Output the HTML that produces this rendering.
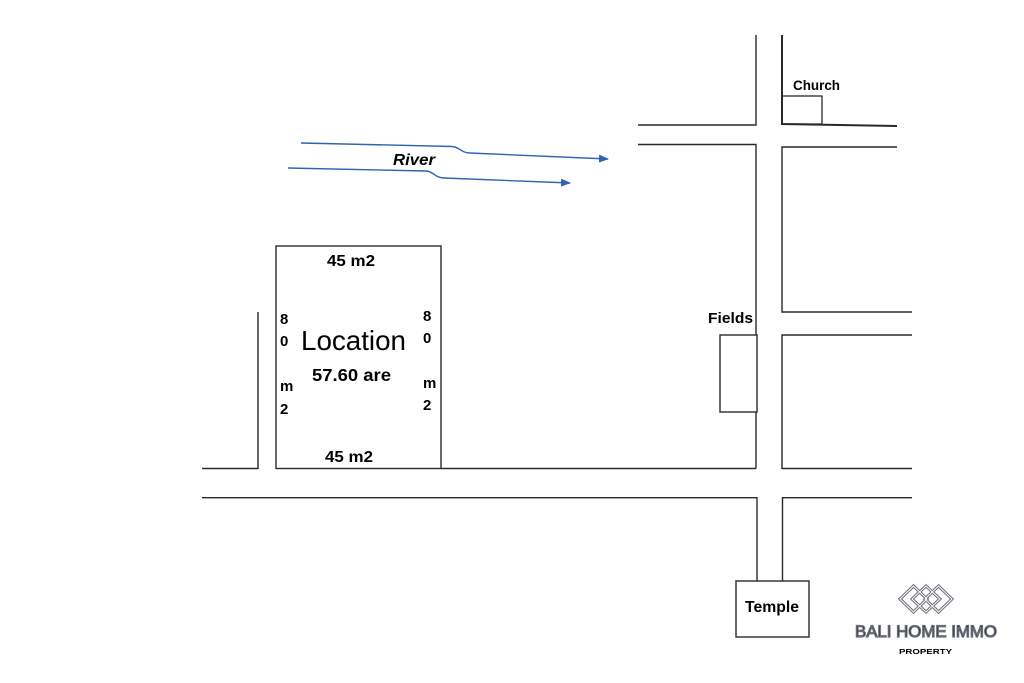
<!DOCTYPE html>
<html>
<head>
<meta charset="utf-8">
<style>
html,body{margin:0;padding:0;background:#fff;}
svg{display:block;}
text{font-family:"Liberation Sans",Arial,sans-serif;fill:#000;}
</style>
</head>
<body>
<svg width="1024" height="683" viewBox="0 0 1024 683" xmlns="http://www.w3.org/2000/svg">
<defs>
<marker id="ar" markerWidth="10" markerHeight="8" refX="9" refY="4" orient="auto" markerUnits="userSpaceOnUse">
<path d="M0,0 L10,4 L0,8 Z" fill="#2e63b5"/>
</marker>
</defs>
<g stroke="#2a2a2a" stroke-width="1.4" fill="none">
<!-- top crossing -->
<polyline points="638,125 756,125 756,35"/>
<polyline points="782,35 782,124 897,126" stroke-width="2"/>
<rect x="782" y="96" width="40" height="28" stroke-width="1.3"/>
<polyline points="638,144.5 756,144.5 756,335"/>
<polyline points="897,147 782,147 782,312 912,312"/>
<polyline points="912,335 782,335 782,468.5 912,468.5"/>
<!-- fields -->
<rect x="720" y="335" width="37" height="77"/>
<line x1="756" y1="412" x2="756" y2="468.5"/>
<!-- location box -->
<rect x="276" y="246" width="165" height="222.5"/>
<line x1="441" y1="468.5" x2="756" y2="468.5"/>
<!-- left -->
<polyline points="258,312 258,468.5 202,468.5"/>
<!-- lower road -->
<polyline points="202,497.7 757,497.7 757,581"/>
<polyline points="912,497.7 782.5,497.7 782.5,581"/>
<rect x="736" y="581" width="73" height="56"/>
</g>
<!-- river -->
<g stroke="#2e63b5" stroke-width="1.4" fill="none">
<path d="M301,143 L452,146.5 C460,147 460,152.5 470,153 L608,159" marker-end="url(#ar)"/>
<path d="M288,168 L426,171 C434,171.5 434,177.5 444,178 L570,183" marker-end="url(#ar)"/>
</g>
<text x="393" y="165" font-size="16" font-style="italic" font-weight="bold" textLength="42" lengthAdjust="spacingAndGlyphs">River</text>
<!-- labels -->
<text x="793" y="90" font-size="14" font-weight="bold" textLength="47" lengthAdjust="spacingAndGlyphs">Church</text>
<text x="708" y="323" font-size="15" font-weight="bold" textLength="45" lengthAdjust="spacingAndGlyphs">Fields</text>
<text x="745" y="612" font-size="15.5" font-weight="bold" textLength="54" lengthAdjust="spacingAndGlyphs">Temple</text>
<text x="327" y="266" font-size="15.5" font-weight="bold" textLength="48" lengthAdjust="spacingAndGlyphs">45 m2</text>
<text x="325" y="462" font-size="15.5" font-weight="bold" textLength="48" lengthAdjust="spacingAndGlyphs">45 m2</text>
<text x="301" y="350" font-size="27.5" textLength="105" lengthAdjust="spacingAndGlyphs">Location</text>
<text x="312" y="381" font-size="17.5" font-weight="bold" textLength="79" lengthAdjust="spacingAndGlyphs">57.60 are</text>
<g font-size="15" font-weight="bold">
<text x="280" y="324">8</text>
<text x="280" y="346">0</text>
<text x="280" y="391">m</text>
<text x="280" y="414">2</text>
<text x="423" y="321">8</text>
<text x="423" y="343">0</text>
<text x="423" y="388">m</text>
<text x="423" y="410">2</text>
</g>
<!-- logo -->
<g fill="none" stroke="#6b6e78" stroke-width="3">
<path d="M913.5,586 L927,599 L913.5,612 L900,599 Z"/>
<path d="M926,586 L940,599 L926,612 L912,599 Z"/>
<path d="M938.5,586 L952,599 L938.5,612 L925,599 Z"/>
</g>
<g fill="none" stroke="#fff" stroke-width="1">
<path d="M913.5,586 L927,599 L913.5,612 L900,599 Z"/>
<path d="M926,586 L940,599 L926,612 L912,599 Z"/>
<path d="M938.5,586 L952,599 L938.5,612 L925,599 Z"/>
</g>
<text x="855" y="637" font-size="16.5" fill="#e8e8ec" stroke="#6b6e78" stroke-width="1.2" textLength="142" lengthAdjust="spacingAndGlyphs">BALI HOME IMMO</text>
<text x="899" y="654" font-size="7" font-weight="bold" fill="#555" textLength="53" lengthAdjust="spacingAndGlyphs">PROPERTY</text>
</svg>
</body>
</html>
